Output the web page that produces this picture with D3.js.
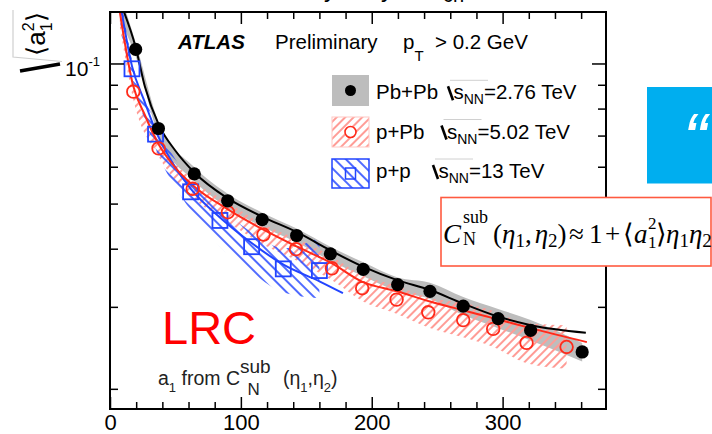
<!DOCTYPE html>
<html><head><meta charset="utf-8">
<script src="https://cdn.jsdelivr.net/npm/d3@7"></script>
<style>body{margin:0;background:#fff}svg{display:block}</style>
</head><body>
<svg id="c" width="712" height="434"></svg>
<script>
// ---------------- data ----------------
const xTickLabels = [0, 100, 200, 300];
const yTickValues = [0.02, 0.03, 0.04, 0.05, 0.06, 0.07, 0.08, 0.09, 0.1];

// Pb+Pb (black dots, grey band, black fit)
const pbpbX = [19.6, 37.0, 64.4, 89.9, 116.3, 142.6, 168.4, 193.5, 219.8, 244.5, 269.9, 296.6, 321.4, 360.8];
const pbpbY = [0.1072, 0.0725, 0.0579, 0.0507, 0.0462, 0.0427, 0.0390, 0.0361, 0.0335, 0.0324, 0.0301, 0.0283, 0.0267, 0.0240];
const pbpbBandX  = [9.0, 19.6, 37.0, 64.4, 89.9, 116.3, 142.6, 168.4, 193.5, 219.8, 244.5, 269.9, 296.6, 321.4, 360.8];
const pbpbBandLo = [0.122, 0.1036, 0.0700, 0.0559, 0.0490, 0.0446, 0.0413, 0.0377, 0.0349, 0.0324, 0.0312, 0.0288, 0.0270, 0.0254, 0.0229];
const pbpbBandHi = [0.138, 0.1110, 0.0750, 0.0599, 0.0525, 0.0478, 0.0442, 0.0404, 0.0374, 0.0347, 0.0338, 0.0315, 0.0297, 0.0281, 0.0251];
const pbpbFitX = [10.7, 19.6, 26.7, 37.4, 49.7, 64.2, 90.1, 116.1, 142.9, 168.1, 193.3, 220.0, 244.5, 269.7, 296.4, 321.6, 363.6];
const pbpbFitY = [0.129, 0.1084, 0.0891, 0.0737, 0.0651, 0.0584, 0.0513, 0.0469, 0.0434, 0.0397, 0.0366, 0.0342, 0.0326, 0.0305, 0.0286, 0.0274, 0.0264];

// p+Pb (red open circles, red hatched band, red fit)
const ppbX = [17.8, 37.1, 63.2, 90.1, 117.3, 142.1, 169.6, 192.7, 219.0, 243.2, 269.9, 292.8, 318.3, 348.9];
const ppbY = [0.0870, 0.0657, 0.0538, 0.0479, 0.0429, 0.0399, 0.0363, 0.0329, 0.0311, 0.0292, 0.0281, 0.0269, 0.0251, 0.0246];
const ppbBandX  = [7.5, 17.8, 37.1, 63.2, 90.1, 117.3, 142.1, 169.6, 192.7, 219.0, 243.2, 269.9, 292.8, 318.3, 348.9];
const ppbBandLo = [0.120, 0.0837, 0.0632, 0.0515, 0.0456, 0.0408, 0.0378, 0.0342, 0.0309, 0.0290, 0.0271, 0.0258, 0.0246, 0.0227, 0.0221];
const ppbBandHi = [0.140, 0.0905, 0.0683, 0.0562, 0.0503, 0.0451, 0.0421, 0.0385, 0.0351, 0.0333, 0.0314, 0.0306, 0.0294, 0.0277, 0.0274];
const ppbFitX = [7.5, 17.6, 26.7, 36.7, 49.7, 63.4, 90.1, 116.9, 142.1, 169.6, 192.5, 219.3, 244.5, 269.7, 296.4, 321.6, 364.4];
const ppbFitY = [0.129, 0.0898, 0.0774, 0.0674, 0.0598, 0.0547, 0.0486, 0.0440, 0.0405, 0.0372, 0.0340, 0.0324, 0.0308, 0.0295, 0.0282, 0.0270, 0.0252];

// p+p (blue open squares, blue hatched band, blue fit)
const ppX = [16.8, 34.8, 61.6, 84.0, 108.2, 132.4, 160.0];
const ppY = [0.0974, 0.0705, 0.0530, 0.0460, 0.0404, 0.0362, 0.0359];
const ppBandX  = [8.0, 16.8, 34.8, 61.6, 84.0, 108.2, 132.4, 160.0];
const ppBandLo = [0.118, 0.0930, 0.0657, 0.0484, 0.0405, 0.0356, 0.0322, 0.0313];
const ppBandHi = [0.140, 0.1017, 0.0748, 0.0561, 0.0489, 0.0434, 0.0401, 0.0423];
const ppFitX = [8.9, 16.8, 26.0, 35.1, 48.1, 61.9, 84.0, 108.5, 132.2, 160.4, 178.0];
const ppFitY = [0.129, 0.0987, 0.0834, 0.0715, 0.0610, 0.0537, 0.0467, 0.0411, 0.0370, 0.0340, 0.0321];

const legendNames = ["Pb+Pb", "p+Pb", "p+p"];
const legendEnergies = ["=2.76 TeV", "=5.02 TeV", "=13 TeV"];

// ---------------- drawing ----------------
const SANS = "Liberation Sans, Arial, Helvetica, sans-serif";
const SERIF = "Liberation Serif, Times New Roman, serif";
const BLUE = "#2244ff", RED = "#ff2a1a", PINK = "#ff9c96", GREY = "#bdbdbd";
const svg = d3.select("#c");
const L = 110, R = 606, T = 12, B = 409;
const x = d3.scaleLinear().domain([0, 379]).range([L, R]);
const y = d3.scaleLog().domain([0.0181, 0.129]).range([B, T]);

const defs = svg.append("defs");
defs.append("clipPath").attr("id", "clip").append("rect")
  .attr("x", L).attr("y", T).attr("width", R - L).attr("height", B - T);
const pr = defs.append("pattern").attr("id", "hatchR").attr("patternUnits", "userSpaceOnUse")
  .attr("width", 6).attr("height", 6).attr("patternTransform", "rotate(45)");
pr.append("line").attr("x1", 3).attr("y1", -1).attr("x2", 3).attr("y2", 7)
  .attr("stroke", PINK).attr("stroke-width", 2);
const pb = defs.append("pattern").attr("id", "hatchB").attr("patternUnits", "userSpaceOnUse")
  .attr("width", 8).attr("height", 8).attr("patternTransform", "rotate(-45)");
pb.append("line").attr("x1", 4).attr("y1", -1).attr("x2", 4).attr("y2", 9)
  .attr("stroke", BLUE).attr("stroke-width", 1.6);

const plot = svg.append("g").attr("clip-path", "url(#clip)");
const zip3 = (xs, lo, hi) => xs.map((v, i) => ({x: v, lo: lo[i], hi: hi[i]}));
const zip2 = (xs, ys) => xs.map((v, i) => ({x: v, y: ys[i]}));
const area = d3.area().x(d => x(d.x)).y0(d => y(d.lo)).y1(d => y(d.hi)).curve(d3.curveMonotoneX);
const line = d3.line().x(d => x(d.x)).y(d => y(d.y)).curve(d3.curveMonotoneX);

plot.append("path").attr("d", area(zip3(pbpbBandX, pbpbBandLo, pbpbBandHi))).attr("fill", GREY);
plot.append("path").attr("d", area(zip3(ppbBandX, ppbBandLo, ppbBandHi))).attr("fill", "url(#hatchR)");
plot.append("path").attr("d", area(zip3(ppBandX, ppBandLo, ppBandHi))).attr("fill", "url(#hatchB)");

plot.append("path").attr("d", line(zip2(ppFitX, ppFitY))).attr("fill", "none").attr("stroke", BLUE).attr("stroke-width", 2);
plot.append("path").attr("d", line(zip2(ppbFitX, ppbFitY))).attr("fill", "none").attr("stroke", RED).attr("stroke-width", 2);
plot.append("path").attr("d", line(zip2(pbpbFitX, pbpbFitY))).attr("fill", "none").attr("stroke", "#000").attr("stroke-width", 2);

plot.selectAll(".sq").data(zip2(ppX, ppY)).join("rect")
  .attr("x", d => x(d.x) - 7.5).attr("y", d => y(d.y) - 7.5).attr("width", 15).attr("height", 15)
  .attr("fill", "none").attr("stroke", BLUE).attr("stroke-width", 1.8);
plot.selectAll(".oc").data(zip2(ppbX, ppbY)).join("circle")
  .attr("cx", d => x(d.x)).attr("cy", d => y(d.y)).attr("r", 6.3)
  .attr("fill", "none").attr("stroke", RED).attr("stroke-width", 1.8);
plot.selectAll(".fc").data(zip2(pbpbX, pbpbY)).join("circle")
  .attr("cx", d => x(d.x)).attr("cy", d => y(d.y)).attr("r", 6.6).attr("fill", "#000");

// axes
const xt = d3.range(0, 380, 20);
const styleAxis = g => { g.select(".domain").remove(); g.attr("font-family", SANS).attr("font-size", 22);
  g.selectAll(".tick line").attr("stroke", "#000").attr("stroke-width", 1.5); g.selectAll("text").attr("fill", "#000"); };
const gb = svg.append("g").attr("transform", `translate(0,${B})`)
  .call(d3.axisBottom(x).tickValues(xt).tickSize(-7).tickPadding(5).tickFormat(d => xTickLabels.includes(d) ? d : ""));
styleAxis(gb); gb.selectAll(".tick line").attr("y2", d => d % 100 === 0 ? -12 : -7);
const gt = svg.append("g").attr("transform", `translate(0,${T})`)
  .call(d3.axisTop(x).tickValues(xt).tickSize(-7).tickFormat(""));
styleAxis(gt); gt.selectAll(".tick line").attr("y2", d => d % 100 === 0 ? 12 : 7);
const gl = svg.append("g").attr("transform", `translate(${L},0)`)
  .call(d3.axisLeft(y).tickValues(yTickValues).tickSize(-8).tickPadding(10).tickFormat(""));
styleAxis(gl); gl.selectAll(".tick line").attr("x2", d => d === 0.1 ? 14 : 8);
const lab = gl.selectAll(".tick").filter(d => d === 0.1).select("text")
  .attr("font-size", 21).attr("dy", "0.55em").attr("text-anchor", "end");
lab.append("tspan").text("10");
lab.append("tspan").attr("font-size", 13).attr("dy", "-0.75em").text("-1");
const gr = svg.append("g").attr("transform", `translate(${R},0)`)
  .call(d3.axisRight(y).tickValues(yTickValues).tickSize(-8).tickFormat(""));
styleAxis(gr); gr.selectAll(".tick line").attr("x2", d => d === 0.1 ? -14 : -8);
svg.append("rect").attr("x", L).attr("y", T).attr("width", R - L).attr("height", B - T)
  .attr("fill", "none").attr("stroke", "#000").attr("stroke-width", 2);

// y axis title (rotated sqrt <a1^2>)
svg.append("path").attr("d", "M13,10 L13,57 L62,61.5").attr("fill", "none").attr("stroke", "#cfcfcf").attr("stroke-width", 1.2);
svg.append("path").attr("d", "M20,71 L60,64").attr("stroke", "#000").attr("stroke-width", 3.5);
const yt = svg.append("text").attr("transform", "translate(45,34) rotate(-90)")
  .attr("font-family", SANS).attr("font-size", 26).attr("text-anchor", "middle").attr("fill", "#000");
yt.append("tspan").text("\u27E8a");
yt.append("tspan").attr("font-size", 16).attr("dy", -11).text("2");
yt.append("tspan").attr("font-size", 16).attr("dx", -9).attr("dy", 18).text("1");
yt.append("tspan").attr("dy", -7).text("\u27E9");

// partial title at the top (cut off)
const tt = svg.append("g").attr("font-family", SANS).attr("font-size", 24).attr("fill", "#000");
tt.append("text").attr("x", 324).attr("y", -3).text("y");
tt.append("text").attr("x", 381).attr("y", -3).text("y");
tt.append("text").attr("x", 443).attr("y", 2).attr("font-size", 20).text("ch");

// header text
const hd = svg.append("text").attr("y", 48.5).attr("font-family", SANS).attr("font-size", 20.5).attr("fill", "#000");
hd.append("tspan").attr("x", 178).attr("font-weight", "bold").attr("font-style", "italic").text("ATLAS");
hd.append("tspan").attr("x", 275).text("Preliminary");
hd.append("tspan").attr("x", 403).text("p");
hd.append("tspan").attr("font-size", 15).attr("dy", 12).text("T");
hd.append("tspan").attr("x", 435).attr("dy", -12).text("> 0.2 GeV");

// legend
const legY = [99.3, 138.5, 178];
const boxY = [75, 117, 159];
const sqrtX = [448, 441.5, 433];
const lg = svg.append("g");
lg.append("rect").attr("x", 332).attr("y", boxY[0]).attr("width", 37).attr("height", 31).attr("fill", GREY);
lg.append("circle").attr("cx", 350.5).attr("cy", boxY[0] + 15.5).attr("r", 5.5).attr("fill", "#000");
lg.append("rect").attr("x", 332).attr("y", boxY[1]).attr("width", 37).attr("height", 30).attr("fill", "url(#hatchR)").attr("stroke", "#ffc8c4").attr("stroke-width", 1);
lg.append("circle").attr("cx", 350.5).attr("cy", boxY[1] + 15).attr("r", 5.5).attr("fill", "#fff").attr("stroke", RED).attr("stroke-width", 1.6);
lg.append("rect").attr("x", 332).attr("y", boxY[2]).attr("width", 37).attr("height", 29).attr("fill", "url(#hatchB)").attr("stroke", BLUE).attr("stroke-width", 1.5);
lg.append("rect").attr("x", 345.5).attr("y", boxY[2] + 9).attr("width", 10).attr("height", 11).attr("fill", "none").attr("stroke", BLUE).attr("stroke-width", 1.5);
legendNames.forEach((n, i) => {
  lg.append("text").attr("x", 376).attr("y", legY[i]).attr("font-family", SANS).attr("font-size", 20.5).attr("fill", "#000").text(n);
  const sx = sqrtX[i], by = legY[i];
  lg.append("path").attr("d", `M${sx},${by - 13} L${sx + 5},${by + 1}`).attr("stroke", "#000").attr("stroke-width", 2.6);
  lg.append("path").attr("d", `M${sx + 2},${by - 19} L${sx + 40},${by - 19}`).attr("stroke", "#d0d0d0").attr("stroke-width", 1);
  const t = lg.append("text").attr("x", sx + 5.5).attr("y", by).attr("font-family", SANS).attr("font-size", 20.5).attr("fill", "#000");
  t.append("tspan").text("s");
  t.append("tspan").attr("font-size", 14).attr("dy", 5).text("NN");
  t.append("tspan").attr("dy", -5).text(legendEnergies[i]);
});

// LRC
svg.append("text").attr("x", 162).attr("y", 343.5).attr("font-family", SANS).attr("font-size", 47).attr("fill", "#ff0000").text("LRC");
const at = svg.append("text").attr("x", 158).attr("y", 385).attr("font-family", SANS).attr("font-size", 19.5).attr("fill", "#222");
at.append("tspan").text("a");
at.append("tspan").attr("font-size", 13).attr("dy", 7).text("1");
at.append("tspan").attr("dy", -7).text(" from C");
at.append("tspan").attr("font-size", 19).attr("dy", -12).text("sub");
at.append("tspan").attr("font-size", 17).attr("x", 247.5).attr("dy", 22).text("N");
at.append("tspan").attr("x", 283).attr("dy", -10).text("(\u03B7");
at.append("tspan").attr("font-size", 13).attr("dy", 7).text("1");
at.append("tspan").attr("dy", -7).text(",\u03B7");
at.append("tspan").attr("font-size", 13).attr("dy", 7).text("2");
at.append("tspan").attr("dy", -7).text(")");

// blue box at right
svg.append("rect").attr("x", 647).attr("y", 87).attr("width", 65).attr("height", 96.5).attr("fill", "#00aeef");
svg.append("text").attr("x", 683).attr("y", 164).attr("font-family", SANS).attr("font-style", "italic")
  .attr("font-size", 72).attr("fill", "#fff").text("\u201C");

// formula box
svg.append("rect").attr("x", 441).attr("y", 197.5).attr("width", 270).attr("height", 68.5)
  .attr("fill", "#fff").attr("stroke", "#ff5a40").attr("stroke-width", 1.6);
const fm = svg.append("g").attr("font-family", SERIF).attr("fill", "#000").attr("font-size", 27);
const put = (px, py, s, opt = {}) => {
  const t = fm.append("text").attr("x", px).attr("y", py).text(s);
  if (opt.it) t.attr("font-style", "italic");
  if (opt.fs) t.attr("font-size", opt.fs);
  return t;
};
put(443, 243, "C", {it: true});
put(463, 223, "sub", {fs: 18});
put(463, 245, "N", {fs: 18});
const f2 = fm.append("text").attr("x", 493).attr("y", 243);
f2.append("tspan").text("(");
f2.append("tspan").attr("font-style", "italic").text("\u03B7");
f2.append("tspan").attr("font-size", 19).attr("dy", 4).text("1");
f2.append("tspan").attr("dy", -4).text(",");
f2.append("tspan").attr("font-style", "italic").attr("dx", 3).text("\u03B7");
f2.append("tspan").attr("font-size", 19).attr("dy", 4).text("2");
f2.append("tspan").attr("dy", -4).text(")");
put(569, 243, "\u2248");
put(589, 243, "1");
put(605, 243, "+");
put(623, 243, "\u27E8");
put(634, 243, "a", {it: true});
put(648, 229, "2", {fs: 17});
put(648, 248, "1", {fs: 17});
put(656, 243, "\u27E9");
const f3 = fm.append("text").attr("x", 666).attr("y", 243);
f3.append("tspan").attr("font-style", "italic").text("\u03B7");
f3.append("tspan").attr("font-size", 19).attr("dy", 4).text("1");
f3.append("tspan").attr("font-style", "italic").attr("dy", -4).text("\u03B7");
f3.append("tspan").attr("font-size", 19).attr("dy", 4).text("2");
</script>
</body></html>
